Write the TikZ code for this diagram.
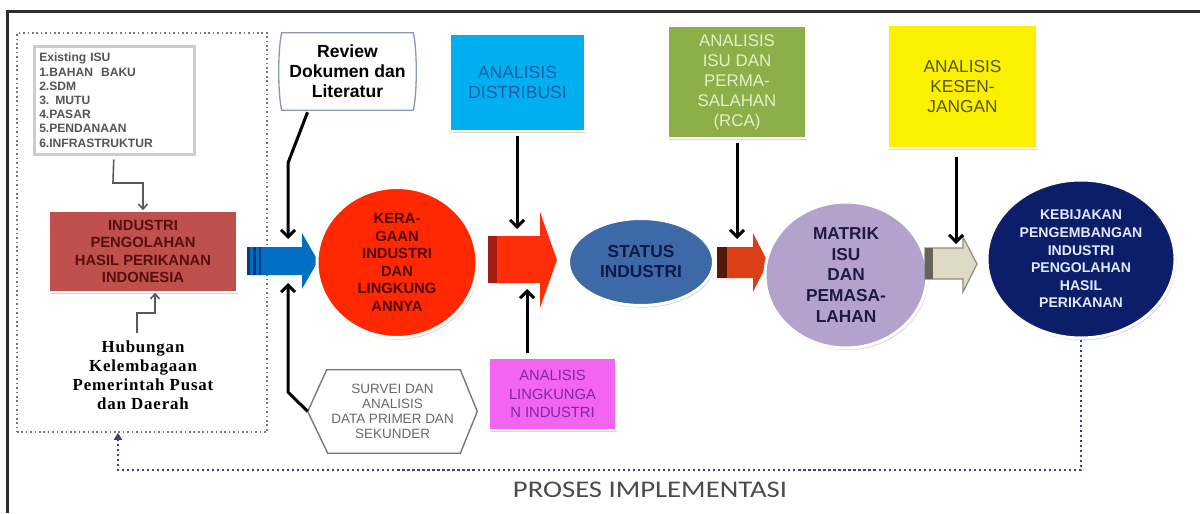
\documentclass[tikz,border=0pt]{standalone}
\usepackage{fontspec}
\setmainfont{Liberation Sans}
\newfontfamily\hubfont[LetterSpace=5]{Liberation Serif}
\newfontfamily\carlito{Carlito}
\usetikzlibrary{shapes.geometric,arrows.meta,calc,shadows}

\definecolor{frameC}{RGB}{45,45,45}
\definecolor{grpC}{RGB}{120,120,120}
\definecolor{isuT}{RGB}{85,85,85}
\definecolor{isuB}{RGB}{205,205,205}
\definecolor{indF}{RGB}{192,80,77}
\definecolor{indT}{RGB}{85,15,15}
\definecolor{revB}{RGB}{140,150,185}
\definecolor{blueA}{RGB}{0,110,195}
\definecolor{blueS}{RGB}{15,55,115}
\definecolor{kerF}{RGB}{255,40,0}
\definecolor{kerT}{RGB}{80,8,0}
\definecolor{survT}{RGB}{105,105,105}
\definecolor{survB}{RGB}{120,120,120}
\definecolor{distF}{RGB}{0,175,240}
\definecolor{distT}{RGB}{35,90,170}
\definecolor{redA}{RGB}{255,45,10}
\definecolor{redS}{RGB}{160,30,20}
\definecolor{pinkF}{RGB}{243,100,243}
\definecolor{pinkT}{RGB}{125,40,165}
\definecolor{statF}{RGB}{62,105,168}
\definecolor{statT}{RGB}{12,25,70}
\definecolor{grnF}{RGB}{140,175,72}
\definecolor{grnT}{RGB}{228,240,205}
\definecolor{orA}{RGB}{220,62,22}
\definecolor{orS}{RGB}{85,25,10}
\definecolor{matF}{RGB}{180,162,205}
\definecolor{matT}{RGB}{30,25,70}
\definecolor{begA}{RGB}{222,218,196}
\definecolor{begS}{RGB}{100,100,90}
\definecolor{begB}{RGB}{140,140,128}
\definecolor{yelF}{RGB}{250,240,0}
\definecolor{yelT}{RGB}{85,85,0}
\definecolor{kebF}{RGB}{12,30,105}
\definecolor{kebT}{RGB}{225,232,255}
\definecolor{implC}{RGB}{60,60,150}
\definecolor{prosT}{RGB}{75,75,75}

\def\pxu{0.025cm}

\tikzset{
  shad/.style={drop shadow={opacity=0.25,shadow xshift=1pt,shadow yshift=-1.5pt,fill=black!60}},
  colbox/.style={rectangle,inner sep=0pt,align=center,draw=white,line width=1.5*\pxu,shad},
  oval/.style={ellipse,inner sep=0pt,align=center,draw=white,line width=3*\pxu,shad},
  blk/.style={draw=black,line width=3*\pxu,-{Straight Barb[length=7*\pxu,width=14*\pxu]}},
  thin/.style={draw=black!65,line width=1.6*\pxu,-{Straight Barb[length=5*\pxu,width=9*\pxu]}},
  impl/.style={draw=implC,line width=2.2*\pxu,dotted,-{Triangle[length=7*\pxu,width=8*\pxu]}},
}

\begin{document}
\begin{tikzpicture}[x=0.025cm,y=-0.025cm]
\useasboundingbox[fill=white] (0,0) rectangle (1200,513);

% outer frame (open on the right and bottom)
\draw[frameC,line width=3*\pxu] (1200,11) -- (7,11) -- (7,513);

% dotted group around the starting block
\node[draw=grpC,dotted,line width=1.6*\pxu,minimum width=250*\pxu,minimum height=399*\pxu,inner sep=0pt] (grp) at (142,232.5) {};

% existing issues list
\node[draw=isuB,line width=2.5*\pxu,fill=white,shad,anchor=north west,
      minimum width=160*\pxu,minimum height=108*\pxu,text width=150*\pxu,inner sep=5*\pxu,
      align=left,text=isuT,font=\fontsize{8.6}{10.1}\selectfont\bfseries] (isu) at (33,45)
  {Existing ISU\\1.BAHAN\ \ BAKU\\2.SDM\\3. MUTU\\4.PASAR\\5.PENDANAAN\\6.INFRASTRUKTUR};

% starting block
\node[colbox,fill=indF,minimum width=188*\pxu,minimum height=81*\pxu,text=indT,
      font=\fontsize{10.5}{12.5}\selectfont\bfseries] (ind) at (143,251.5)
  {INDUSTRI\\PENGOLAHAN\\HASIL PERIKANAN\\INDONESIA};

\node[align=center,font=\hubfont\fontsize{12}{13.6}\selectfont\bfseries] (hub) at (143,375)
  {Hubungan\\Kelembagaan\\Pemerintah Pusat\\dan Daerah};

\coordinate (isuk1) at (113,183);
\coordinate (isuk2) at (143,183);
\draw[thin] ($(isu.south)+(-0.5,4)$) -- (isuk1) -- (isuk2) -- (ind.north -| isuk2);
\coordinate (hubk1) at (137,313);
\coordinate (hubk2) at (155,313);
\draw[thin] ($(hub.north)+(-6,-2)$) -- (hubk1) -- (hubk2) -- (ind.south -| hubk2);

% literature review
\node[minimum width=131*\pxu,minimum height=77*\pxu,inner sep=0pt,align=center,
      font=\fontsize{12.5}{14.2}\selectfont\bfseries] (rev) at (347.5,71.5)
  {Review\\Dokumen dan\\Literatur};
\draw[revB,line width=1.3*\pxu] (rev.north west)
  .. controls ($(rev.west)+(-4,-22)$) and ($(rev.west)+(-4,22)$) .. (rev.south west)
  -- (rev.south east)
  .. controls ($(rev.east)+(4,22)$) and ($(rev.east)+(4,-22)$) .. (rev.north east) -- cycle;

% survey hexagon
\node[minimum width=169*\pxu,minimum height=83*\pxu,inner sep=0pt,align=center,text=survT,
      font=\fontsize{9.6}{10.8}\selectfont] (surv) at (392.5,411.5)
  {SURVEI DAN\\ANALISIS\\DATA PRIMER DAN\\SEKUNDER};
\draw[survB,line width=1.4*\pxu] ($(surv.north west)+(19,0)$) -- ($(surv.north east)+(-17,0)$)
  -- (surv.east) -- ($(surv.south east)+(-17,0)$) -- ($(surv.south west)+(20,0)$)
  -- (surv.west) -- cycle;

% blue block arrow
\fill[blueA] (247,247) -- (302,247) -- (302,233) -- (318,261) -- (302,289) -- (302,275) -- (247,275) -- cycle;
\fill[blueS] (247,247) rectangle (250,275);
\fill[blueS] (253,247) rectangle (255.5,275);
\fill[blueS] (258.5,247) rectangle (261,275);
\coordinate (a1top) at (288,239);
\coordinate (a1bot) at (288,283);
\coordinate (revk) at (288,163);
\coordinate (survk) at (288,392);
\draw[blk] ($(rev.south)+(-40,2)$) -- (revk) -- (a1top);
\draw[blk] (surv.west) -- (survk) -- (a1bot);

% first analysis stage
\node[oval,fill=kerF,minimum width=160*\pxu,minimum height=150*\pxu,text=kerT,
      font=\fontsize{10.5}{12.4}\selectfont\bfseries] (ker) at (397,262.5)
  {KERA-\\GAAN\\INDUSTRI\\DAN\\LINGKUNG\\ANNYA};

\node[colbox,fill=distF,minimum width=135*\pxu,minimum height=97*\pxu,text=distT,
      font=\fontsize{12.5}{14.2}\selectfont] (dist) at (517.5,82.5)
  {ANALISIS\\DISTRIBUSI};
\node[colbox,fill=pinkF,minimum width=127*\pxu,minimum height=72*\pxu,text=pinkT,
      font=\fontsize{10.5}{13}\selectfont] (pink) at (552.5,394)
  {ANALISIS\\LINGKUNGA\\N INDUSTRI};

% red block arrow
\fill[redA] (488,236) -- (540,236) -- (540,212) -- (557,260) -- (540,308) -- (540,283) -- (488,283) -- cycle;
\fill[redS] (488,236) rectangle (497,283);
\coordinate (a2top) at (517,229);
\coordinate (a2bot) at (527,289);
\draw[blk] ($(dist.south)+(-0.5,4)$) -- (a2top);
\draw[blk] ($(pink.north -| a2bot)+(0,-4)$) -- (a2bot);

\node[oval,fill=statF,minimum width=145*\pxu,minimum height=87*\pxu,text=statT,
      font=\fontsize{12.3}{14.2}\selectfont\bfseries] (stat) at (641,262)
  {STATUS\\INDUSTRI};

% issue analysis
\node[colbox,fill=grnF,minimum width=138*\pxu,minimum height=112*\pxu,text=grnT,
      font=\fontsize{12}{14.2}\selectfont] (grn) at (737,82)
  {ANALISIS\\ISU DAN\\PERMA-\\SALAHAN\\(RCA)};

\fill[orA] (717,247) -- (753,247) -- (753,233) -- (768,262.5) -- (753,292) -- (753,278) -- (717,278) -- cycle;
\fill[orS] (717,247) rectangle (727,278);
\coordinate (a3top) at (737,239);
\draw[blk] ($(grn.south)+(0,4)$) -- (a3top);

\node[oval,fill=matF,minimum width=162*\pxu,minimum height=146*\pxu,text=matT,
      font=\fontsize{12.3}{14.9}\selectfont\bfseries] (mat) at (846,275)
  {MATRIK\\ISU\\DAN\\PEMASA-\\LAHAN};

% gap analysis
\node[colbox,fill=yelF,minimum width=149*\pxu,minimum height=123*\pxu,text=yelT,
      font=\fontsize{12.3}{14.5}\selectfont] (yel) at (962.5,86.5)
  {ANALISIS\\KESEN-\\JANGAN};

\filldraw[fill=begA,draw=begB,line width=1.2*\pxu] (925,248) -- (963,248) -- (963,237) -- (977,264) -- (963,292) -- (963,279) -- (925,279) -- cycle;
\fill[begS] (925,248) rectangle (933,279);
\coordinate (a4top) at (956,244);
\draw[blk] ($(yel.south -| a4top)+(0,8)$) -- (a4top);

% policy outcome
\node[oval,fill=kebF,minimum width=188*\pxu,minimum height=158*\pxu,text=kebT,
      font=\fontsize{10}{12.5}\selectfont\bfseries] (keb) at (1081,259)
  {KEBIJAKAN\\PENGEMBANGAN\\INDUSTRI\\PENGOLAHAN\\HASIL\\PERIKANAN};

% implementation feedback loop
\coordinate (ret) at (118,470);
\draw[impl] (keb.south) |- (ret) -- (grp.south -| ret);
\node[font=\carlito\fontsize{17}{20}\selectfont,text=prosT,xscale=1.2] (pros) at (650,490) {PROSES IMPLEMENTASI};

\end{tikzpicture}
\end{document}
